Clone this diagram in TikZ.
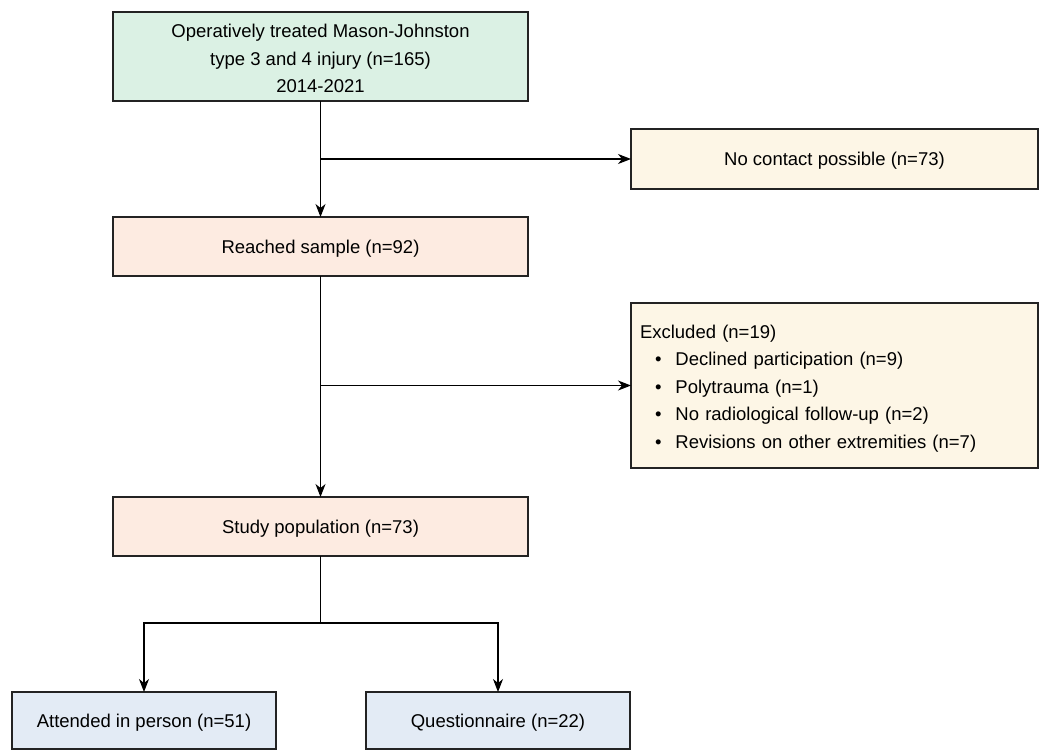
\documentclass[tikz,border=0pt]{standalone}
\usepackage{fontspec}
\setmainfont{Liberation Sans}
\usetikzlibrary{arrows.meta}
\definecolor{cgreen}{RGB}{219,241,228}
\definecolor{ccream}{RGB}{253,246,230}
\definecolor{cpink}{RGB}{253,235,225}
\definecolor{cblue}{RGB}{227,235,245}
\definecolor{cborder}{RGB}{35,35,35}
\tikzset{
  box/.style={draw=cborder, line width=1.2pt, inner sep=0pt, outer sep=0pt, align=center,
    font=\fontsize{18.5}{27.5}\selectfont},
  onebox/.style={box, text depth=0pt},
  conn/.style={line width=1.1pt, draw=black},
  arr/.style={conn, -{Stealth[length=13pt,width=10pt,inset=4pt]}}
}
\begin{document}
\begin{tikzpicture}[x=1pt,y=-1pt]
\useasboundingbox (0,0) rectangle (1040,750);
\node[box, fill=cgreen, minimum width=415pt, minimum height=89pt] (top) at (320.5,56.5)
  {\rule{0pt}{17.5pt}Operatively treated Mason-Johnston\\type 3 and 4 injury (n=165)\\2014-2021};
\node[onebox, fill=ccream, minimum width=407pt, minimum height=60pt] (nocontact) at (834.5,159)
  {No contact possible (n=73)};
\node[onebox, fill=cpink, minimum width=415pt, minimum height=59pt] (reached) at (320.5,246.5)
  {Reached sample (n=92)};
\node[box, fill=ccream, minimum width=407pt, minimum height=165pt, text width=389pt, align=left] (excluded) at (834.5,385.5)
  {\rule{0pt}{19.5pt}Excluded (n=19)\\
   \hspace*{15pt}\textbullet\hspace{14pt}Declined participation (n=9)\\
   \hspace*{15pt}\textbullet\hspace{14pt}Polytrauma (n=1)\\
   \hspace*{15pt}\textbullet\hspace{14pt}No radiological follow-up (n=2)\\
   \hspace*{15pt}\textbullet\hspace{14pt}Revisions on other extremities (n=7)};
\node[onebox, fill=cpink, minimum width=415pt, minimum height=59pt] (study) at (320.5,526.5)
  {Study population (n=73)};
\node[onebox, fill=cblue, minimum width=264pt, minimum height=57pt] (attended) at (144,720.5)
  {Attended in person (n=51)};
\node[onebox, fill=cblue, minimum width=264pt, minimum height=57pt] (quest) at (498,720.5)
  {Questionnaire (n=22)};
\coordinate (b1) at (top.south |- nocontact.west);
\coordinate (b2) at (reached.south |- excluded.west);
\coordinate (split) at (320.5,623);
\draw[arr] (top.south) -- (reached.north);
\draw[arr] (b1) -- (nocontact.west);
\draw[arr] (reached.south) -- (study.north);
\draw[arr] (b2) -- (excluded.west);
\draw[conn] (study.south) -- (split);
\draw[arr] (split) -| (attended.north);
\draw[arr] (split) -| (quest.north);
\end{tikzpicture}
\end{document}
